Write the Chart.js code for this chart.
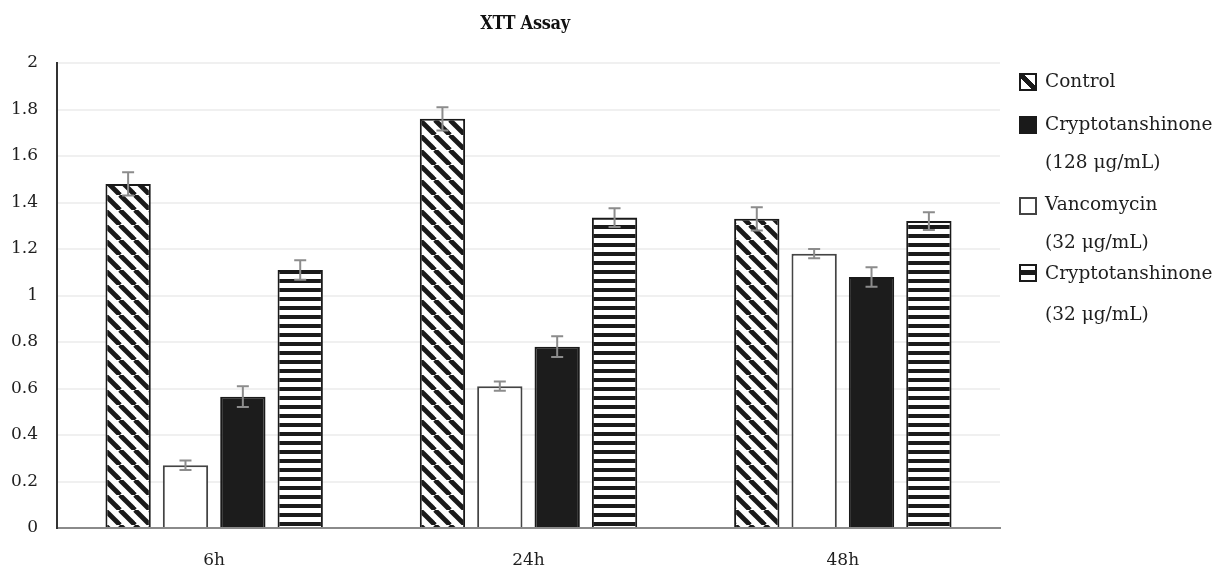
<!DOCTYPE html>
<html>
<head>
<meta charset="utf-8">
<script src="https://cdn.jsdelivr.net/npm/chart.js@4/dist/chart.umd.min.js"></script>
<style>
  html, body { margin: 0; padding: 0; background: #fff; }
  #wrap { position: relative; width: 1218px; height: 572px; }
  #chart { position: absolute; left: 0; top: 0; }
  #title { position: absolute; left: 425px; width: 200px; top: 13px; text-align: center;
           font-family: "DejaVu Serif Condensed", "DejaVu Serif", serif; font-weight: bold;
           font-size: 18px; line-height: 20px; color: #111; letter-spacing: -0.3px; }
  .lg { position: absolute; font-family: "DejaVu Serif", serif; font-size: 18.5px; line-height: 20px; color: #1e1e1e; white-space: nowrap; }
  .sw { position: absolute; width: 14px; height: 14px; border: 2px solid #1a1a1a; background: #fff; }
</style>
</head>
<body>
<div id="wrap">
  <canvas id="chart" width="1218" height="572"></canvas>
  <div id="title">XTT Assay</div>
  <div class="sw" style="left:1019px;top:73px;background:linear-gradient(to top right,#fff 0 36%,#1a1a1a 36% 64%,#fff 64% 100%);"></div>
  <div class="lg" style="left:1045px;top:71px;">Control</div>
  <div class="sw" style="left:1019px;top:116px;background:#1a1a1a;"></div>
  <div class="lg" style="left:1045px;top:114px;">Cryptotanshinone</div>
  <div class="lg" style="left:1045px;top:152px;">(128 μg/mL)</div>
  <div class="sw" style="left:1019px;top:197px;border-color:#444;"></div>
  <div class="lg" style="left:1045px;top:194px;">Vancomycin</div>
  <div class="lg" style="left:1045px;top:232px;">(32 μg/mL)</div>
  <div class="sw" style="left:1019px;top:264px;background:linear-gradient(to bottom,#fff 0 30%,#1a1a1a 30% 65%,#fff 65% 100%);"></div>
  <div class="lg" style="left:1045px;top:263px;">Cryptotanshinone</div>
  <div class="lg" style="left:1045px;top:304px;">(32 μg/mL)</div>
</div>
<script>
// Time points and tick labels
const categories = ['6h', '24h', '48h'];
const yTickLabels = ['0', '0.2', '0.4', '0.6', '0.8', '1', '1.2', '1.4', '1.6', '1.8', '2'];

// Mean absorbance and error for each treatment
const controlMeans = [1.48, 1.76, 1.33];
const controlErr = [0.05, 0.05, 0.05];
const vancomycinMeans = [0.27, 0.61, 1.18];
const vancomycinErr = [0.02, 0.02, 0.02];
const crypto128Means = [0.565, 0.78, 1.08];
const crypto128Err = [0.045, 0.045, 0.042];
const crypto32Means = [1.11, 1.335, 1.32];
const crypto32Err = [0.042, 0.04, 0.038];

const SERIF = '"DejaVu Serif", serif';

function diagonalPattern() {
  const s = 15;
  const c = document.createElement('canvas');
  c.width = s; c.height = s;
  const g = c.getContext('2d');
  g.fillStyle = '#fff';
  g.fillRect(0, 0, s, s);
  g.strokeStyle = '#1a1a1a';
  g.lineWidth = 4.8;
  for (const o of [-s, 0, s]) {
    g.beginPath();
    g.moveTo(o, 0);
    g.lineTo(o + s, s);
    g.stroke();
  }
  return g.createPattern(c, 'repeat');
}

function horizontalPattern() {
  const c = document.createElement('canvas');
  c.width = 8; c.height = 9;
  const g = c.getContext('2d');
  g.fillStyle = '#fff';
  g.fillRect(0, 0, 8, 9);
  g.fillStyle = '#1a1a1a';
  g.fillRect(0, 0, 8, 4);
  return g.createPattern(c, 'repeat');
}

// Error bars drawn over each bar
const errorBars = {
  id: 'errorBars',
  afterDatasetsDraw(chart) {
    const ctx = chart.ctx;
    const y = chart.scales.y;
    ctx.save();
    ctx.strokeStyle = '#8c8c8c';
    ctx.lineWidth = 2;
    chart.data.datasets.forEach((ds, i) => {
      const meta = chart.getDatasetMeta(i);
      meta.data.forEach((bar, j) => {
        const v = ds.data[j], e = ds.errors[j];
        const top = y.getPixelForValue(v + e);
        const bot = y.getPixelForValue(v - e);
        const x = bar.x;
        ctx.beginPath();
        ctx.moveTo(x, top); ctx.lineTo(x, bot);
        ctx.moveTo(x - 6, top); ctx.lineTo(x + 6, top);
        ctx.moveTo(x - 6, bot); ctx.lineTo(x + 6, bot);
        ctx.stroke();
      });
    });
    ctx.restore();
  }
};

new Chart(document.getElementById('chart'), {
  type: 'bar',
  data: {
    labels: categories,
    datasets: [
      { label: 'Control', data: controlMeans, errors: controlErr,
        backgroundColor: diagonalPattern(), borderColor: '#1a1a1a', borderWidth: 2 },
      { label: 'Vancomycin (32 μg/mL)', data: vancomycinMeans, errors: vancomycinErr,
        backgroundColor: '#ffffff', borderColor: '#444444', borderWidth: 2 },
      { label: 'Cryptotanshinone (128 μg/mL)', data: crypto128Means, errors: crypto128Err,
        backgroundColor: '#1c1c1c', borderColor: '#1a1a1a', borderWidth: 2 },
      { label: 'Cryptotanshinone (32 μg/mL)', data: crypto32Means, errors: crypto32Err,
        backgroundColor: horizontalPattern(), borderColor: '#1a1a1a', borderWidth: 2 }
    ]
  },
  options: {
    responsive: false,
    animation: false,
    events: [],
    categoryPercentage: 0.73,
    barPercentage: 0.79,
    layout: { padding: { left: 0, right: 218, top: 63, bottom: 0 } },
    plugins: {
      legend: { display: false },
      tooltip: { enabled: false },
      title: { display: false }
    },
    scales: {
      x: {
        grid: { display: false, drawTicks: false },
        border: { display: true, color: '#8a8a8a', width: 2 },
        ticks: { color: '#1e1e1e', font: { family: SERIF, size: 17 }, padding: 22 },
        afterFit(scale) { scale.height = 44; }
      },
      y: {
        min: 0, max: 2,
        ticks: {
          stepSize: 0.2,
          color: '#1e1e1e',
          font: { family: SERIF, size: 17 },
          padding: 19,
          callback: (v, i) => yTickLabels[i]
        },
        grid: { color: '#f0f0f0', lineWidth: 2, drawTicks: false },
        border: { display: true, color: '#333', width: 2 },
        afterFit(scale) { scale.width = 57; }
      }
    }
  },
  plugins: [errorBars]
});
</script>
</body>
</html>
